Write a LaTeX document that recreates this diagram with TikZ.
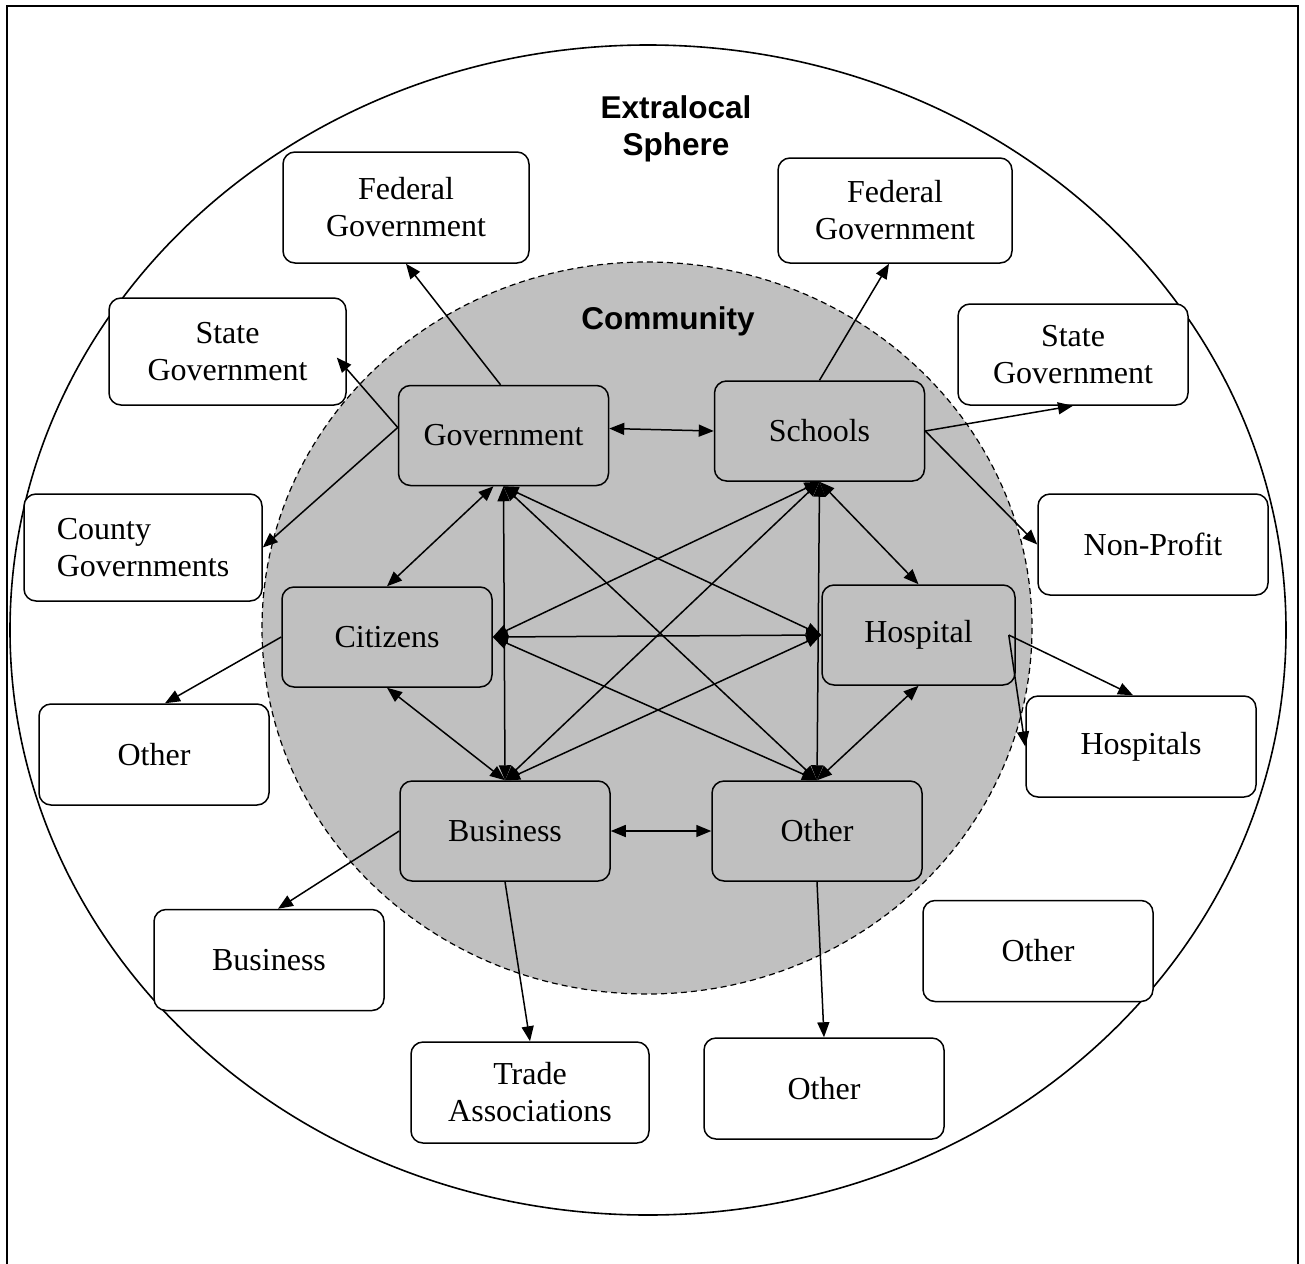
\documentclass[tikz,border=0pt]{standalone}
\usepackage{fontspec}
\setmainfont{Liberation Serif}
\newfontfamily\headfont{Liberation Sans}
\usetikzlibrary{arrows.meta}

\definecolor{commgray}{RGB}{192,192,192}

\begin{document}
\begin{tikzpicture}[x=1pt, y=-1pt, every node/.style={font=\fontsize{32}{37}\selectfont, align=center}, bx/.style={draw, rounded corners=12pt, line width=1.5pt, inner sep=0pt, minimum width=230pt, minimum height=101pt, fill=white}, cbx/.style={bx, fill=commgray, minimum width=210pt, minimum height=100pt}, hd/.style={font=\headfont\bfseries\fontsize{31.5}{37}\selectfont}, arr/.style={-{Triangle[length=15pt,width=12pt]}, line width=1.5pt}, dbl/.style={{Triangle[length=15pt,width=12pt]}-{Triangle[length=15pt,width=12pt]}, line width=1.5pt}]
\useasboundingbox (0,0) rectangle (1305,1263);
% frame, extralocal sphere and community
\draw[line width=2.4pt] (7,1270) -- (7,6) -- (1298,6) -- (1298,1270);
\draw[line width=1.6pt] (648,630) ellipse [x radius=638, y radius=585];
\draw[fill=commgray, dash pattern=on 6pt off 4pt, line width=1.2pt] (647,628) ellipse [x radius=385, y radius=366];
\node[hd] (ext) at (676,129) {Extralocal\\Sphere};
\node[hd] (com) at (668,321) {Community};
% community actors
\node[cbx] (gov) at (503.5,435.5) {Government};
\node[cbx] (sch) at (819.5,431) {Schools};
\node[cbx] (cit) at (387,637) {Citizens};
\node[cbx, minimum width=193pt] (hos) at (918.5,635) {Hospital};
\node[cbx] (bus) at (505,831) {Business};
\node[cbx] (oth) at (817,831) {Other};
% extralocal actors
\node[bx, minimum width=246pt, minimum height=111pt] (fedl) at (406,207.5) {Federal\\Government};
\node[bx, minimum width=237pt, minimum height=107pt] (stl) at (227.5,351.5) {State\\Government};
\node[bx, minimum width=238pt, minimum height=107pt, align=left] (cty) at (143,547.5) {County\\Governments};
\node[bx] (othl) at (154,754.5) {Other};
\node[bx] (busx) at (269,960) {Business};
\node[bx, minimum width=238pt] (trd) at (530,1092.5) {Trade\\Associations};
\node[bx, minimum width=240pt] (othb) at (824,1088.5) {Other};
\node[bx] (othr) at (1038,951) {Other};
\node[bx] (hsp) at (1141,746.5) {Hospitals};
\node[bx] (npr) at (1153,544.5) {Non-Profit};
\node[bx] (str) at (1073,354.5) {State\\Government};
\node[bx, minimum width=234pt, minimum height=105pt] (fedr) at (895,210.5) {Federal\\Government};
% links inside the community
\draw[dbl] ([yshift=7pt]gov.east) -- (sch.west); \draw[dbl] ([xshift=-10pt]gov.south) -- (cit.north);
\draw[dbl] (gov.south) -- (bus.north); \draw[dbl] (gov.south) -- (oth.north); \draw[dbl] (gov.south) -- (hos.west);
\draw[dbl] (sch.south) -- (cit.east); \draw[dbl] (sch.south) -- (bus.north); \draw[dbl] (sch.south) -- (oth.north); \draw[dbl] (sch.south) -- (hos.north);
\draw[dbl] (cit.east) -- (hos.west); \draw[dbl] (cit.south) -- (bus.north); \draw[dbl] (cit.east) -- (oth.north);
\draw[dbl] (bus.north) -- (hos.west); \draw[dbl] (hos.south) -- (oth.north); \draw[dbl] (bus.east) -- (oth.west);
% links out to the extralocal sphere
\draw[arr] ([xshift=-3pt]gov.north) -- (fedl.south);
\draw[arr] ([yshift=8pt]gov.west) -- ([xshift=-10pt,yshift=-6pt]stl.east); \draw[arr] ([yshift=8pt]gov.west) -- (cty.east);
\draw[arr] (sch.north) -- ([xshift=-6pt]fedr.south); \draw[arr] (sch.east) -- (str.south); \draw[arr] (sch.east) -- (npr.west);
\draw[arr] (cit.west) -- ([xshift=11pt]othl.north);
\draw[arr] ([xshift=-7pt]hos.east) -- ([xshift=-8pt]hsp.north); \draw[arr] ([xshift=-7pt]hos.east) -- (hsp.west);
\draw[arr] (bus.west) -- ([xshift=9pt]busx.north); \draw[arr] (bus.south) -- (trd.north); \draw[arr] (oth.south) -- (othb.north);
\end{tikzpicture}
\end{document}
